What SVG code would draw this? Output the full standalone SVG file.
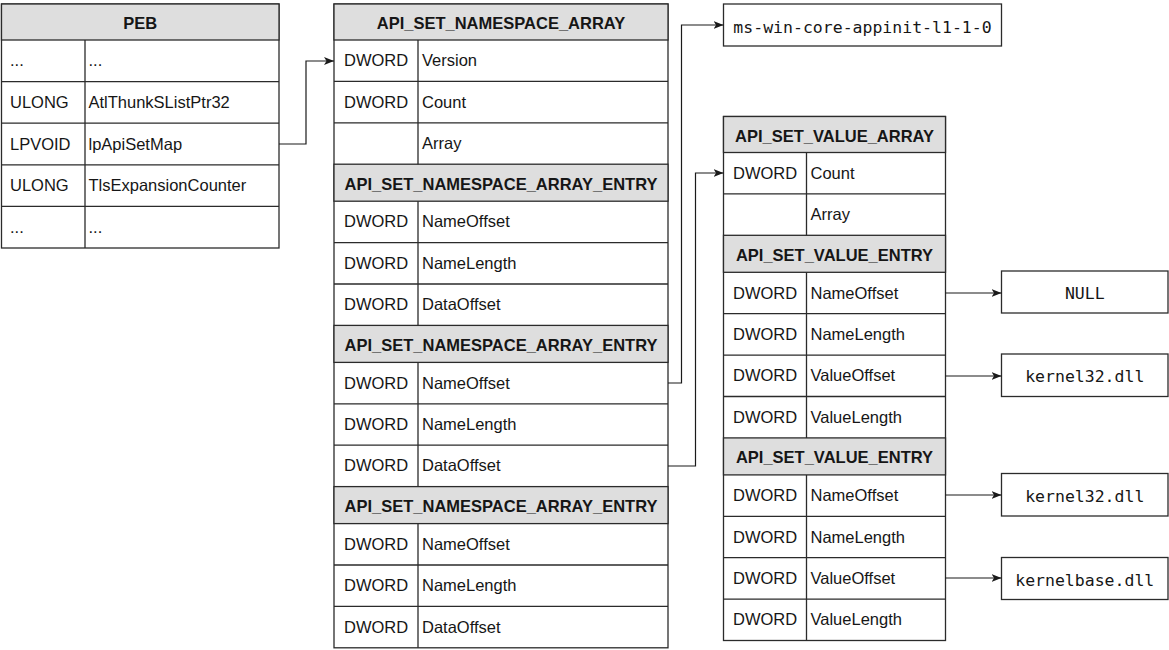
<svg xmlns="http://www.w3.org/2000/svg" width="1169" height="650" viewBox="0 0 1169 650">
<style>
.bg{fill:#ffffff}
.box{fill:#ffffff;stroke:#2b2b2b;stroke-width:1.3}
.hd{fill:#dedede;stroke:#2b2b2b;stroke-width:1.3}
.ln{stroke:#2b2b2b;stroke-width:1.3;fill:none}
.t{font-family:"Liberation Sans",Arial,sans-serif;font-size:16.5px;fill:#161616}
.h{font-family:"Liberation Sans",Arial,sans-serif;font-size:16.5px;font-weight:bold;fill:#161616;text-anchor:middle}
.m{font-family:"DejaVu Sans Mono","Liberation Mono",monospace;font-size:16.5px;fill:#161616;text-anchor:middle}
.c{stroke:#1a1a1a;stroke-width:1.2;fill:none;marker-end:url(#arr)}
</style>
<defs>
<marker id="arr" markerWidth="12" markerHeight="10" refX="10" refY="4" orient="auto" markerUnits="userSpaceOnUse">
<path d="M0,0 L10,4 L0,8 L2.5,4 Z" fill="#1a1a1a"/>
</marker>
</defs>
<rect class="bg" x="0" y="0" width="1169" height="650"/>

<g id="peb">
<rect class="box" x="1.5" y="4" width="277.5" height="244"/>
<rect class="hd" x="1.5" y="4" width="277.5" height="36"/>
<path class="ln" d="M1.5 81.6H279M1.5 123.2H279M1.5 164.8H279M1.5 206.4H279M85 40V248"/>
<text class="h" x="140.25" y="29">PEB</text>
<text class="t" x="10" y="66.3">...</text><text class="t" x="88.5" y="66.3">...</text>
<text class="t" x="10" y="107.9">ULONG</text><text class="t" x="88.5" y="107.9">AtlThunkSListPtr32</text>
<text class="t" x="10" y="149.5">LPVOID</text><text class="t" x="88.5" y="149.5">lpApiSetMap</text>
<text class="t" x="10" y="191.1">ULONG</text><text class="t" x="88.5" y="191.1">TlsExpansionCounter</text>
<text class="t" x="10" y="232.7">...</text><text class="t" x="88.5" y="232.7">...</text>
</g>

<g id="namespace_array">
<rect class="box" x="334" y="4" width="334" height="643.8"/>
<rect class="hd" x="334" y="4" width="334" height="36"/>
<rect class="hd" x="334" y="164.2" width="334" height="37"/>
<rect class="hd" x="334" y="325.4" width="334" height="37"/>
<rect class="hd" x="334" y="486.6" width="334" height="37"/>
<path class="ln" d="M334 81.4H668M334 122.8H668M334 242.6H668M334 284H668M334 403.8H668M334 445.2H668M334 565H668M334 606.4H668M418 40V164.2M418 201.2V325.4M418 362.4V486.6M418 523.6V647.8"/>
<text class="h" x="501" y="29">API_SET_NAMESPACE_ARRAY</text>
<text class="t" x="344" y="66.2">DWORD</text><text class="t" x="422" y="66.2">Version</text>
<text class="t" x="344" y="107.6">DWORD</text><text class="t" x="422" y="107.6">Count</text>
<text class="t" x="422" y="149">Array</text>
<text class="h" x="501" y="189.7">API_SET_NAMESPACE_ARRAY_ENTRY</text>
<text class="t" x="344" y="227.4">DWORD</text><text class="t" x="422" y="227.4">NameOffset</text>
<text class="t" x="344" y="268.8">DWORD</text><text class="t" x="422" y="268.8">NameLength</text>
<text class="t" x="344" y="310.2">DWORD</text><text class="t" x="422" y="310.2">DataOffset</text>
<text class="h" x="501" y="350.9">API_SET_NAMESPACE_ARRAY_ENTRY</text>
<text class="t" x="344" y="388.6">DWORD</text><text class="t" x="422" y="388.6">NameOffset</text>
<text class="t" x="344" y="430">DWORD</text><text class="t" x="422" y="430">NameLength</text>
<text class="t" x="344" y="471.4">DWORD</text><text class="t" x="422" y="471.4">DataOffset</text>
<text class="h" x="501" y="512.1">API_SET_NAMESPACE_ARRAY_ENTRY</text>
<text class="t" x="344" y="549.8">DWORD</text><text class="t" x="422" y="549.8">NameOffset</text>
<text class="t" x="344" y="591.2">DWORD</text><text class="t" x="422" y="591.2">NameLength</text>
<text class="t" x="344" y="632.6">DWORD</text><text class="t" x="422" y="632.6">DataOffset</text>
</g>

<g id="value_array">
<rect class="box" x="723.5" y="116.5" width="222" height="524"/>
<rect class="hd" x="723.5" y="116.5" width="222" height="36"/>
<rect class="hd" x="723.5" y="235.3" width="222" height="37"/>
<rect class="hd" x="723.5" y="437.9" width="222" height="37"/>
<path class="ln" d="M723.5 193.9H945.5M723.5 313.7H945.5M723.5 355.1H945.5M723.5 396.5H945.5M723.5 516.3H945.5M723.5 557.7H945.5M723.5 599.1H945.5M806.5 152.5V235.3M806.5 272.3V437.9M806.5 474.9V640.5"/>
<text class="h" x="834.5" y="141.5">API_SET_VALUE_ARRAY</text>
<text class="t" x="733" y="178.7">DWORD</text><text class="t" x="810.5" y="178.7">Count</text>
<text class="t" x="810.5" y="220.1">Array</text>
<text class="h" x="834.5" y="260.8">API_SET_VALUE_ENTRY</text>
<text class="t" x="733" y="298.5">DWORD</text><text class="t" x="810.5" y="298.5">NameOffset</text>
<text class="t" x="733" y="339.9">DWORD</text><text class="t" x="810.5" y="339.9">NameLength</text>
<text class="t" x="733" y="381.3">DWORD</text><text class="t" x="810.5" y="381.3">ValueOffset</text>
<text class="t" x="733" y="422.7">DWORD</text><text class="t" x="810.5" y="422.7">ValueLength</text>
<text class="h" x="834.5" y="463.4">API_SET_VALUE_ENTRY</text>
<text class="t" x="733" y="501.1">DWORD</text><text class="t" x="810.5" y="501.1">NameOffset</text>
<text class="t" x="733" y="542.5">DWORD</text><text class="t" x="810.5" y="542.5">NameLength</text>
<text class="t" x="733" y="583.9">DWORD</text><text class="t" x="810.5" y="583.9">ValueOffset</text>
<text class="t" x="733" y="625.3">DWORD</text><text class="t" x="810.5" y="625.3">ValueLength</text>
</g>

<g id="name_string">
<rect class="box" x="723.5" y="4" width="278" height="42"/>
<text class="m" x="862.5" y="32.5">ms-win-core-appinit-l1-1-0</text>
</g>
<g id="value_null">
<rect class="box" x="1001.5" y="271" width="166.5" height="42"/>
<text class="m" x="1084.75" y="299">NULL</text>
</g>
<g id="value_kernel32_a">
<rect class="box" x="1001.5" y="354" width="166.5" height="42.5"/>
<text class="m" x="1084.75" y="382">kernel32.dll</text>
</g>
<g id="value_kernel32_b">
<rect class="box" x="1001.5" y="473.5" width="166.5" height="42.5"/>
<text class="m" x="1084.75" y="501.5">kernel32.dll</text>
</g>
<g id="value_kernelbase">
<rect class="box" x="1001.5" y="557.5" width="166.5" height="42"/>
<text class="m" x="1084.75" y="585.5">kernelbase.dll</text>
</g>

<g id="connectors">
<path class="c" d="M279 144H306V61H334"/>
<path class="c" d="M668 383H681.5V25H723.5"/>
<path class="c" d="M668 466H695.5V173H723.5"/>
<path class="c" d="M945.5 293H1001.5"/>
<path class="c" d="M945.5 376H1001.5"/>
<path class="c" d="M945.5 495H1001.5"/>
<path class="c" d="M945.5 578H1001.5"/>
</g>
</svg>
